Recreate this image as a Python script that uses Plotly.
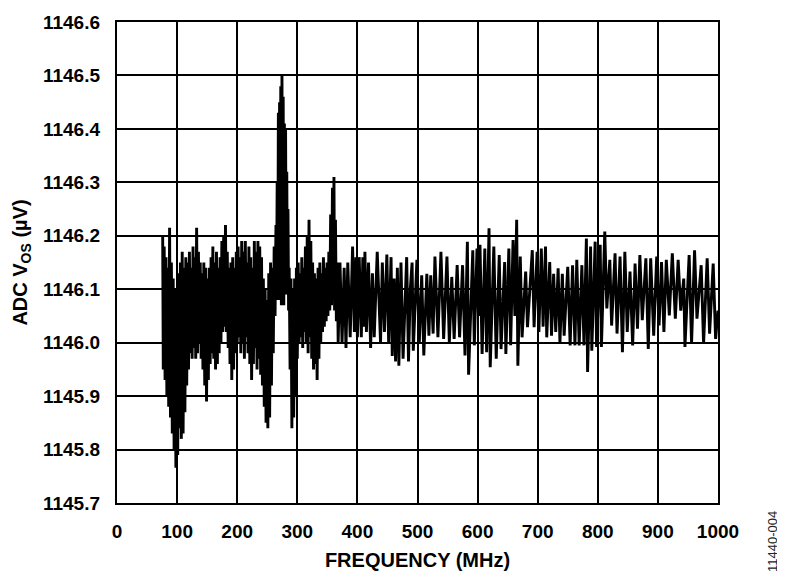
import plotly.graph_objects as go

# ADC offset voltage vs frequency (MHz, uV)

# 76 - 200 MHz, dense noisy part
freq_a = [76, 77, 78.5, 80, 81.5, 83, 84.5, 86, 87.5, 89,
          90.5, 92, 93.5, 95, 96.5, 98, 99.5, 101, 102.5, 104,
          105.5, 107, 108.5, 110, 111.5, 113, 114.5, 116, 117.5, 119,
          120.5, 122, 123.5, 125, 126.5, 128, 129.5, 131, 132.5, 134,
          135.5, 137, 138.5, 140, 141.5, 143, 144.5, 146, 147.5, 149,
          150.5, 152, 153.5, 155, 156.5, 158, 159.5, 161, 162.5, 164,
          165.5, 167, 168.5, 170, 171.5, 173, 174.5, 176, 177.5, 179,
          180.5, 182, 183.5, 185, 186.5, 188, 189.5, 191, 192.5, 194,
          195.5, 197, 198.5, 200]
vos_a = [1146.20, 1145.95, 1146.18, 1145.93, 1146.16, 1145.90, 1146.14, 1145.88, 1146.215, 1145.86,
         1146.15, 1145.83, 1146.12, 1145.80, 1146.10, 1145.766, 1146.08, 1145.79, 1146.13, 1145.84,
         1146.15, 1145.82, 1146.17, 1145.83, 1146.14, 1145.87, 1146.16, 1145.92, 1146.15, 1145.95,
         1146.17, 1145.98, 1146.14, 1145.97, 1146.18, 1145.99, 1146.16, 1145.97, 1146.215, 1145.98,
         1146.17, 1146.00, 1146.15, 1145.97, 1146.13, 1145.95, 1146.15, 1145.92, 1146.14, 1145.89,
         1146.12, 1145.93, 1146.14, 1145.96, 1146.16, 1145.98, 1146.18, 1145.97, 1146.15, 1145.95,
         1146.17, 1145.96, 1146.14, 1145.98, 1146.16, 1146.00, 1146.19, 1146.02, 1146.20, 1146.03,
         1146.22, 1146.02, 1146.17, 1145.99, 1146.14, 1145.96, 1146.15, 1145.93, 1146.16, 1145.95,
         1146.14, 1145.98, 1146.17, 1146.00]

# 200 - 300 MHz, big peak near 274 MHz
freq_b = [201.5, 203, 204.5, 206, 207.5, 209, 210.5, 212, 213.5, 215,
          216.5, 218, 219.5, 221, 222.5, 224, 225.5, 227, 228.5, 230,
          231.5, 233, 234.5, 236, 237.5, 239, 240.5, 242, 243.5, 245,
          246.5, 248, 249.5, 251, 252.5, 254, 255.5, 257, 258.5, 260,
          261.5, 263, 264.5, 265.5, 266.5, 267.5, 268.5, 269.5, 270.5, 271.5,
          272.5, 273.5, 274.5, 275.5, 276.5, 277.5, 278.5, 279.5, 280.5, 281.5,
          282.5, 283.5, 284.5, 285.5, 286.5, 288, 289.5, 291, 292.5, 294,
          295.5, 297, 298.5, 300]
vos_b = [1146.18, 1146.01, 1146.16, 1145.98, 1146.19, 1146.00, 1146.17, 1145.97, 1146.19, 1146.01,
         1146.15, 1145.98, 1146.18, 1145.96, 1146.16, 1145.93, 1146.14, 1145.96, 1146.19, 1145.99,
         1146.17, 1145.95, 1146.19, 1145.97, 1146.18, 1145.94, 1146.16, 1145.92, 1146.12, 1145.88,
         1146.10, 1145.85, 1146.08, 1145.84, 1146.13, 1145.86, 1146.15, 1145.92, 1146.14, 1145.98,
         1146.18, 1146.05, 1146.22, 1146.09, 1146.30, 1146.08, 1146.43, 1146.10, 1146.45, 1146.08,
         1146.48, 1146.07, 1146.50, 1146.08, 1146.46, 1146.07, 1146.41, 1146.09, 1146.40, 1146.10,
         1146.32, 1146.09, 1146.25, 1146.06, 1146.14, 1145.95, 1146.12, 1145.84, 1146.10, 1145.86,
         1146.12, 1145.90, 1146.14, 1145.97]

# 300 - 370 MHz, second peak near 361 MHz
freq_c = [301.5, 303, 304.5, 306, 307.5, 309, 310.5, 312, 313.5, 315,
          316.5, 318, 319.5, 321, 322.5, 324, 325.5, 327, 328.5, 330,
          331.5, 333, 334.5, 336, 337.5, 339, 340.5, 342, 343.5, 345,
          346.5, 348, 349.5, 351, 352.5, 354, 355.5, 357, 358.5, 360,
          361, 362, 363.5, 365, 366.5, 368]
vos_c = [1146.15, 1146.00, 1146.13, 1146.01, 1146.16, 1145.99, 1146.14, 1146.02, 1146.18, 1146.00,
         1146.20, 1145.98, 1146.23, 1146.01, 1146.19, 1145.97, 1146.15, 1145.95, 1146.13, 1145.96,
         1146.12, 1145.93, 1146.14, 1145.97, 1146.15, 1146.00, 1146.13, 1146.02, 1146.16, 1146.03,
         1146.14, 1146.04, 1146.15, 1146.05, 1146.17, 1146.06, 1146.24, 1146.07, 1146.29, 1146.08,
         1146.31, 1146.06, 1146.23, 1146.04, 1146.15, 1146.00]

# 370 - 500 MHz
freq_d = [371, 374.5, 378, 381, 384, 388, 392, 395, 397.5, 400,
          403, 406.5, 409, 411, 412.5, 415, 418.5, 422, 425, 428,
          433, 438.5, 441.5, 445, 449, 452, 456, 458, 461, 463.5,
          466.5, 469, 472.5, 476, 482, 485, 488, 491, 493, 499]
vos_d = [1146.15, 1146.00, 1146.14, 1145.99, 1146.15, 1146.01, 1146.18, 1146.02, 1146.16, 1146.01,
         1146.16, 1146.01, 1146.16, 1146.03, 1146.17, 1146.02, 1146.15, 1145.99, 1146.13, 1146.01,
         1146.17, 1146.00, 1146.15, 1146.02, 1146.165, 1146.00, 1146.16, 1145.975, 1146.12, 1145.965,
         1146.14, 1145.957, 1146.15, 1145.97, 1146.16, 1145.965, 1146.10, 1146.15, 1145.985, 1146.155]

# 500 - 745 MHz
freq_e = [503, 507, 510.5, 515.5, 519, 522, 526, 529, 534, 539,
          543.5, 549, 553, 557, 561, 566, 570, 575, 579, 583,
          585, 592, 594.5, 599, 601.5, 604, 607.5, 612, 615, 619,
          621, 627, 631, 636, 639, 645, 647, 652, 655, 659,
          662, 665, 667, 671, 674, 680, 683, 691, 694, 699,
          702, 706, 709, 713, 715, 720, 723, 726.5, 730, 734,
          737, 741]
vos_e = [1146.00, 1146.126, 1145.976, 1146.129, 1146.013, 1146.126, 1146.017, 1146.161, 1146.01, 1146.17,
         1146.007, 1146.161, 1146.0, 1146.123, 1146.007, 1146.145, 1146.01, 1146.145, 1145.976, 1146.189,
         1145.94, 1146.173, 1145.995, 1146.176, 1146.05, 1146.183, 1145.979, 1146.176, 1145.982, 1146.214,
         1145.954, 1146.18, 1145.97, 1146.164, 1145.988, 1146.151, 1145.979, 1146.176, 1145.995, 1146.192,
         1146.05, 1146.23, 1145.957, 1146.161, 1146.01, 1146.133, 1146.029, 1146.173, 1146.029, 1146.17,
         1146.02, 1146.176, 1146.03, 1146.18, 1146.01, 1146.151, 1146.013, 1146.129, 1146.02, 1146.139,
         1146.00, 1146.129]

# 745 - 1000 MHz
freq_f = [744, 750, 754, 758, 762, 765, 769, 773.5, 777, 781,
          783, 788, 790, 795.6, 798, 804, 806, 811.6, 815, 820,
          823, 828.7, 832, 837, 841, 845, 849, 853.6, 858, 862,
          866, 870, 874, 880, 884, 888, 893, 898, 902, 906,
          910, 914, 919, 924, 929, 933.7, 938, 943, 945, 952,
          956, 961, 965, 972, 976, 982, 986, 992, 996, 1000]
vos_f = [1146.013, 1146.142, 1145.995, 1146.145, 1145.995, 1146.155, 1145.995, 1146.145, 1145.995, 1146.195,
         1145.945, 1146.18, 1145.985, 1146.189, 1145.992, 1146.183, 1145.992, 1146.208, 1146.064, 1146.155,
         1146.032, 1146.167, 1146.017, 1146.161, 1145.982, 1146.17, 1146.02, 1146.133, 1145.995, 1146.148,
         1146.026, 1146.164, 1146.042, 1146.158, 1145.988, 1146.158, 1146.013, 1146.161, 1146.032, 1146.151,
         1146.02, 1146.155, 1146.051, 1146.167, 1146.045, 1146.155, 1146.06, 1146.12, 1145.992, 1146.164,
         1145.998, 1146.173, 1146.045, 1146.145, 1145.998, 1146.158, 1146.017, 1146.148, 1146.007, 1146.06]

freq = freq_a + freq_b + freq_c + freq_d + freq_e + freq_f
vos = vos_a + vos_b + vos_c + vos_d + vos_e + vos_f

x_ticks = list(range(0, 1001, 100))
y_ticks = [1145.7, 1145.8, 1145.9, 1146.0, 1146.1, 1146.2, 1146.3, 1146.4, 1146.5, 1146.6]

fnt = "Liberation Sans, Arial, sans-serif"

fig = go.Figure()
fig.add_trace(go.Scatter(x=freq, y=vos, mode="lines",
                         line=dict(color="black", width=2.9),
                         showlegend=False, hoverinfo="skip"))

# page body has an 8px margin, so the figure is a bit smaller than the window
fig.update_layout(
    width=777, height=575,
    margin=dict(l=109, r=67, t=14, b=80),
    paper_bgcolor="white", plot_bgcolor="white",
    font=dict(family=fnt, color="black"),
)
fig.update_xaxes(
    range=[0, 1000], tickvals=x_ticks, automargin=False,
    showgrid=True, gridcolor="black", gridwidth=1.6,
    showline=True, linecolor="black", linewidth=2.4, mirror=True,
    zeroline=False, ticks="", ticklabelstandoff=10,
    tickfont=dict(size=19, weight="bold", family=fnt),
    title=dict(text="FREQUENCY (MHz)", standoff=12,
               font=dict(size=20, weight="bold", family=fnt)),
)
fig.update_yaxes(
    range=[1145.7, 1146.6], tickvals=y_ticks, tickformat=".1f", automargin=False,
    showgrid=True, gridcolor="black", gridwidth=1.6,
    showline=True, linecolor="black", linewidth=2.4, mirror=True,
    zeroline=False, ticks="", ticklabelstandoff=11,
    tickfont=dict(size=19, weight="bold", family=fnt),
    title=dict(text="ADC V<sub>OS</sub> (µV)", standoff=10,
               font=dict(size=20, weight="bold", family=fnt)),
)

fig.add_annotation(text="11440-004", xref="paper", yref="paper",
                   x=1.0915, y=-0.079, xanchor="center", yanchor="middle",
                   showarrow=False, textangle=-90,
                   font=dict(size=13, color="#222", family=fnt))

fig.write_html("out.html")
